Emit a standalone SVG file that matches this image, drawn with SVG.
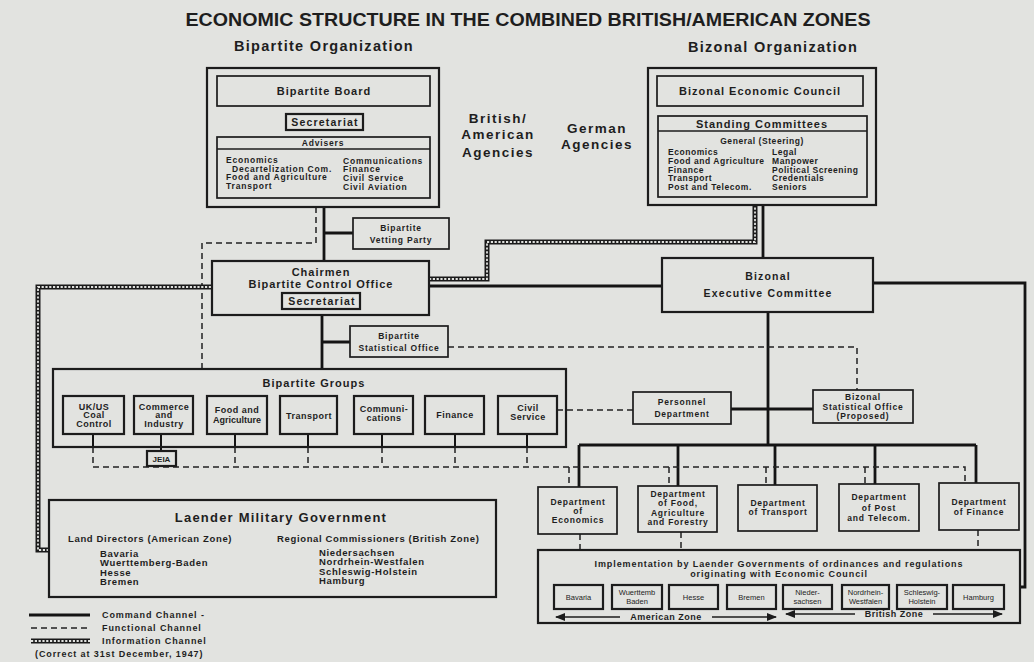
<svg xmlns="http://www.w3.org/2000/svg" width="1034" height="662" viewBox="0 0 1034 662">
<defs>
<style>
.bx{fill:none;stroke:#1c1c1c;stroke-width:1.7}
.bx2{fill:none;stroke:#1c1c1c;stroke-width:2.2}
.cmd{fill:none;stroke:#141414;stroke-width:2.8}
.thin{fill:none;stroke:#141414;stroke-width:2}
.fn{fill:none;stroke:#222;stroke-width:1.5;stroke-dasharray:6 4}
.i1{fill:none;stroke:#1a1a1a;stroke-width:5}
.i2{fill:none;stroke:#e2e3e0;stroke-width:1.8;stroke-dasharray:2.2 1.6}
.ar{fill:none;stroke:#1c1c1c;stroke-width:1.5}
text{font-family:"Liberation Sans",Arial,sans-serif;font-weight:bold;fill:#1e1e1e}
.c{text-anchor:middle}
.t{font-size:18px}
.h{font-size:14.5px;letter-spacing:1.3px}
.b{font-size:11px;letter-spacing:1px}
.m{font-size:9px;letter-spacing:0.5px}
.s{font-size:8.5px;letter-spacing:0.8px}
.sc{font-size:8.5px;letter-spacing:0.55px}
.l{font-size:9.5px;letter-spacing:0.65px}
.lg{font-size:9px;letter-spacing:0.9px}
.n{font-size:7.5px;font-weight:normal}
.ag{font-size:13.5px;letter-spacing:1.5px}
.sec{font-size:10.5px;letter-spacing:1.2px}
</style>
<marker id="ah" markerWidth="10" markerHeight="8" refX="9" refY="4" orient="auto-start-reverse" markerUnits="userSpaceOnUse">
<path d="M0,0 L10,4 L0,8 Z" fill="#1c1c1c"/>
</marker>
</defs>
<rect width="1034" height="662" fill="#e2e3e0"/>

<g id="titles">
<text class="t c" x="528" y="26" textLength="685" lengthAdjust="spacingAndGlyphs">ECONOMIC STRUCTURE IN THE COMBINED BRITISH/AMERICAN ZONES</text>
<text class="h c" x="324" y="51">Bipartite Organization</text>
<text class="h c" x="773" y="52">Bizonal Organization</text>
</g>

<g id="connectors">
<path class="cmd" d="M324 207 V261 M324 233 H353 M322 315 V369 M322 342 H350 M429 286 H662 M763 205 V258 M768 312 V445 M579 445 H976 M579 445 V487 M678 445 V486 M775 445 V485 M875 445 V484 M976 445 V483 M731 409 H813 M873 283 H1025 V587 H1020"/>
<path class="thin" d="M93 434 V447 M161 434 V451 M235 434 V447 M308 434 V447 M382 434 V447 M455 434 V447 M527 434 V447"/>
<path class="fn" d="M316 207 V243 H202 V369 M448 347 H857 V390 M557 410 H633 M93 447 V467 M235 447 V467 M308 447 V467 M382 447 V467 M455 447 V467 M527 447 V467 M93 467 H965 V483 M569 467 V487 M669 467 V486 M766 467 V485 M865 467 V484 M580 534 V550 M681 532 V550 M978 530 V550"/>
<path class="i1" d="M211 287 H38 V550 H49 M429 279 H487 V242 H755 V205"/>
<path class="i2" d="M211 287 H38 V550 H49 M429 279 H487 V242 H755 V205"/>
</g>

<g id="bipartite-board">
<rect class="bx2" x="207" y="68" width="232" height="139"/>
<rect class="bx" x="217" y="76" width="213" height="30"/>
<text class="b c" x="324" y="95">Bipartite Board</text>
<rect class="bx2" x="286" y="114" width="77" height="16"/>
<text class="sec c" x="325" y="126">Secretariat</text>
<rect class="bx" x="217" y="137" width="213" height="61"/>
<line class="bx" x1="217" y1="149" x2="430" y2="149"/>
<text class="s c" x="323" y="146">Advisers</text>
<text class="s" x="226" y="163">Economics</text>
<text class="s" x="232" y="172">Decartelization Com.</text>
<text class="s" x="226" y="180">Food and Agriculture</text>
<text class="s" x="226" y="189">Transport</text>
<text class="s" x="343" y="164">Communications</text>
<text class="s" x="343" y="172">Finance</text>
<text class="s" x="343" y="181">Civil Service</text>
<text class="s" x="343" y="190">Civil Aviation</text>
</g>

<g id="bizonal-council">
<rect class="bx2" x="648" y="68" width="228" height="137"/>
<rect class="bx" x="657" y="76" width="206" height="30"/>
<text class="b c" x="760" y="95">Bizonal Economic Council</text>
<rect class="bx" x="658" y="116" width="209" height="81"/>
<line class="bx" x1="658" y1="131" x2="867" y2="131"/>
<text class="b c" x="762" y="128">Standing Committees</text>
<text class="sc c" x="762" y="144">General (Steering)</text>
<text class="sc" x="668" y="155">Economics</text>
<text class="sc" x="668" y="164">Food and Agriculture</text>
<text class="sc" x="668" y="173">Finance</text>
<text class="sc" x="668" y="181">Transport</text>
<text class="sc" x="668" y="190">Post and Telecom.</text>
<text class="sc" x="772" y="155">Legal</text>
<text class="sc" x="772" y="164">Manpower</text>
<text class="sc" x="772" y="173">Political Screening</text>
<text class="sc" x="772" y="181">Credentials</text>
<text class="sc" x="772" y="190">Seniors</text>
</g>

<g id="agencies">
<text class="ag c" x="498" y="123">British/</text>
<text class="ag c" x="498" y="139">American</text>
<text class="ag c" x="498" y="157">Agencies</text>
<text class="ag c" x="597" y="133">German</text>
<text class="ag c" x="597" y="149">Agencies</text>
</g>

<g id="vetting-party">
<rect class="bx" x="353" y="218" width="96" height="31"/>
<text class="s c" x="401" y="231">Bipartite</text>
<text class="s c" x="401" y="243">Vetting Party</text>
</g>

<g id="control-office">
<rect class="bx2" x="212" y="261" width="217" height="54"/>
<text class="b c" x="321" y="276">Chairmen</text>
<text class="b c" x="321" y="288">Bipartite Control Office</text>
<rect class="bx2" x="282" y="293" width="78" height="16"/>
<text class="sec c" x="322" y="305">Secretariat</text>
</g>

<g id="statistical-office">
<rect class="bx" x="350" y="326" width="98" height="31"/>
<text class="s c" x="399" y="339">Bipartite</text>
<text class="s c" x="399" y="351">Statistical Office</text>
</g>

<g id="executive-committee">
<rect class="bx2" x="662" y="258" width="211" height="54"/>
<text class="c" x="768" y="280" font-size="10.5" letter-spacing="1.2">Bizonal</text>
<text class="c" x="768" y="297" font-size="10.5" letter-spacing="1.2">Executive Committee</text>
</g>

<g id="bipartite-groups">
<rect class="bx2" x="53" y="369" width="513" height="78"/>
<text class="b c" x="314" y="387">Bipartite Groups</text>
<rect class="bx2" x="63" y="396" width="61" height="38"/>
<text class="m c" x="94" y="410">UK/US</text>
<text class="m c" x="94" y="418">Coal</text>
<text class="m c" x="94" y="427">Control</text>
<rect class="bx2" x="134" y="396" width="59" height="38"/>
<text class="m c" x="164" y="410">Commerce</text>
<text class="m c" x="164" y="418">and</text>
<text class="m c" x="164" y="427">Industry</text>
<rect class="bx2" x="207" y="396" width="60" height="38"/>
<text class="m c" x="237" y="413">Food and</text>
<text class="c" x="237" y="423" font-size="9">Agriculture</text>
<rect class="bx2" x="280" y="396" width="57" height="38"/>
<text class="m c" x="309" y="419">Transport</text>
<rect class="bx2" x="354" y="396" width="59" height="38"/>
<text class="m c" x="384" y="412">Communi-</text>
<text class="m c" x="384" y="421">cations</text>
<rect class="bx2" x="425" y="396" width="59" height="38"/>
<text class="m c" x="455" y="418">Finance</text>
<rect class="bx2" x="498" y="396" width="59" height="38"/>
<text class="m c" x="528" y="411">Civil</text>
<text class="m c" x="528" y="420">Service</text>
</g>

<g id="jeia">
<rect class="bx2" x="147" y="451" width="29" height="15"/>
<text class="c" x="161.5" y="462" font-size="8">JEIA</text>
</g>

<g id="personnel-department">
<rect class="bx" x="633" y="392" width="98" height="32"/>
<text class="s c" x="682" y="405">Personnel</text>
<text class="s c" x="682" y="417">Department</text>
</g>

<g id="bizonal-statistical-office">
<rect class="bx" x="813" y="390" width="100" height="33"/>
<text class="s c" x="863" y="400">Bizonal</text>
<text class="s c" x="863" y="410">Statistical Office</text>
<text class="s c" x="863" y="419">(Proposed)</text>
</g>

<g id="dept-economics">
<rect class="bx" x="538" y="487" width="79" height="47"/>
<text class="s c" x="578" y="505">Department</text>
<text class="s c" x="578" y="514">of</text>
<text class="s c" x="578" y="523">Economics</text>
</g>
<g id="dept-food">
<rect class="bx" x="638" y="486" width="79" height="46"/>
<text class="s c" x="678" y="497">Department</text>
<text class="s c" x="678" y="506">of Food,</text>
<text class="s c" x="678" y="516">Agriculture</text>
<text class="s c" x="678" y="525">and Forestry</text>
</g>
<g id="dept-transport">
<rect class="bx" x="738" y="485" width="79" height="46"/>
<text class="s c" x="778" y="506">Department</text>
<text class="s c" x="778" y="515">of Transport</text>
</g>
<g id="dept-post">
<rect class="bx" x="839" y="484" width="80" height="47"/>
<text class="s c" x="879" y="500">Department</text>
<text class="s c" x="879" y="511">of Post</text>
<text class="s c" x="879" y="521">and Telecom.</text>
</g>
<g id="dept-finance">
<rect class="bx" x="939" y="483" width="80" height="47"/>
<text class="s c" x="979" y="505">Department</text>
<text class="s c" x="979" y="515">of Finance</text>
</g>

<g id="implementation">
<rect class="bx2" x="538" y="550" width="482" height="73"/>
<text class="c" x="779" y="567" font-size="9" letter-spacing="0.9">Implementation by Laender Governments of ordinances and regulations</text>
<text class="c" x="779" y="577" font-size="9" letter-spacing="0.9">originating with Economic Council</text>
<rect class="bx2" x="554" y="585" width="49" height="24"/>
<text class="n c" x="578.5" y="600">Bavaria</text>
<rect class="bx2" x="612" y="585" width="50" height="24"/>
<text class="n c" x="637" y="595">Wuerttemb</text>
<text class="n c" x="637" y="604">Baden</text>
<rect class="bx2" x="669" y="585" width="49" height="24"/>
<text class="n c" x="693.5" y="600">Hesse</text>
<rect class="bx2" x="727" y="585" width="49" height="24"/>
<text class="n c" x="751.5" y="600">Bremen</text>
<rect class="bx2" x="783" y="585" width="49" height="24"/>
<text class="n c" x="807.5" y="595">Nieder-</text>
<text class="n c" x="807.5" y="604">sachsen</text>
<rect class="bx2" x="842" y="585" width="47" height="24"/>
<text class="n c" x="865.5" y="595">Nordrhein-</text>
<text class="n c" x="865.5" y="604">Westfalen</text>
<rect class="bx2" x="897" y="585" width="50" height="24"/>
<text class="n c" x="922" y="595">Schleswig-</text>
<text class="n c" x="922" y="604">Holstein</text>
<rect class="bx2" x="953" y="585" width="51" height="24"/>
<text class="n c" x="978.5" y="600">Hamburg</text>
<line class="ar" x1="620" y1="617" x2="556" y2="617" marker-end="url(#ah)"/>
<line class="ar" x1="712" y1="617" x2="776" y2="617" marker-end="url(#ah)"/>
<text class="m c" x="666" y="620" letter-spacing="1">American Zone</text>
<line class="ar" x1="855" y1="614" x2="786" y2="614" marker-end="url(#ah)"/>
<line class="ar" x1="933" y1="614" x2="1002" y2="614" marker-end="url(#ah)"/>
<text class="m c" x="894" y="617" letter-spacing="1">British Zone</text>
</g>

<g id="laender-military-government">
<rect class="bx2" x="49" y="500" width="447" height="97"/>
<text class="c" x="281" y="522" font-size="13" letter-spacing="1.2">Laender Military Government</text>
<text class="l" x="68" y="542">Land Directors (American Zone)</text>
<text class="l" x="277" y="542">Regional Commissioners (British Zone)</text>
<text class="l" x="100" y="557">Bavaria</text>
<text class="l" x="100" y="566">Wuerttemberg-Baden</text>
<text class="l" x="100" y="576">Hesse</text>
<text class="l" x="100" y="585">Bremen</text>
<text class="l" x="319" y="556">Niedersachsen</text>
<text class="l" x="319" y="565">Nordrhein-Westfalen</text>
<text class="l" x="319" y="575">Schleswig-Holstein</text>
<text class="l" x="319" y="584">Hamburg</text>
</g>

<g id="legend">
<line class="cmd" x1="29" y1="615" x2="90" y2="615"/>
<text class="lg" x="102" y="618">Command Channel -</text>
<line class="fn" x1="31" y1="628" x2="90" y2="628"/>
<text class="lg" x="102" y="631">Functional Channel</text>
<line class="i1" x1="31" y1="641" x2="90" y2="641"/>
<line class="i2" x1="31" y1="641" x2="90" y2="641"/>
<text class="lg" x="102" y="644">Information Channel</text>
<text class="lg" x="35" y="657">(Correct at 31st December, 1947)</text>
</g>
</svg>
